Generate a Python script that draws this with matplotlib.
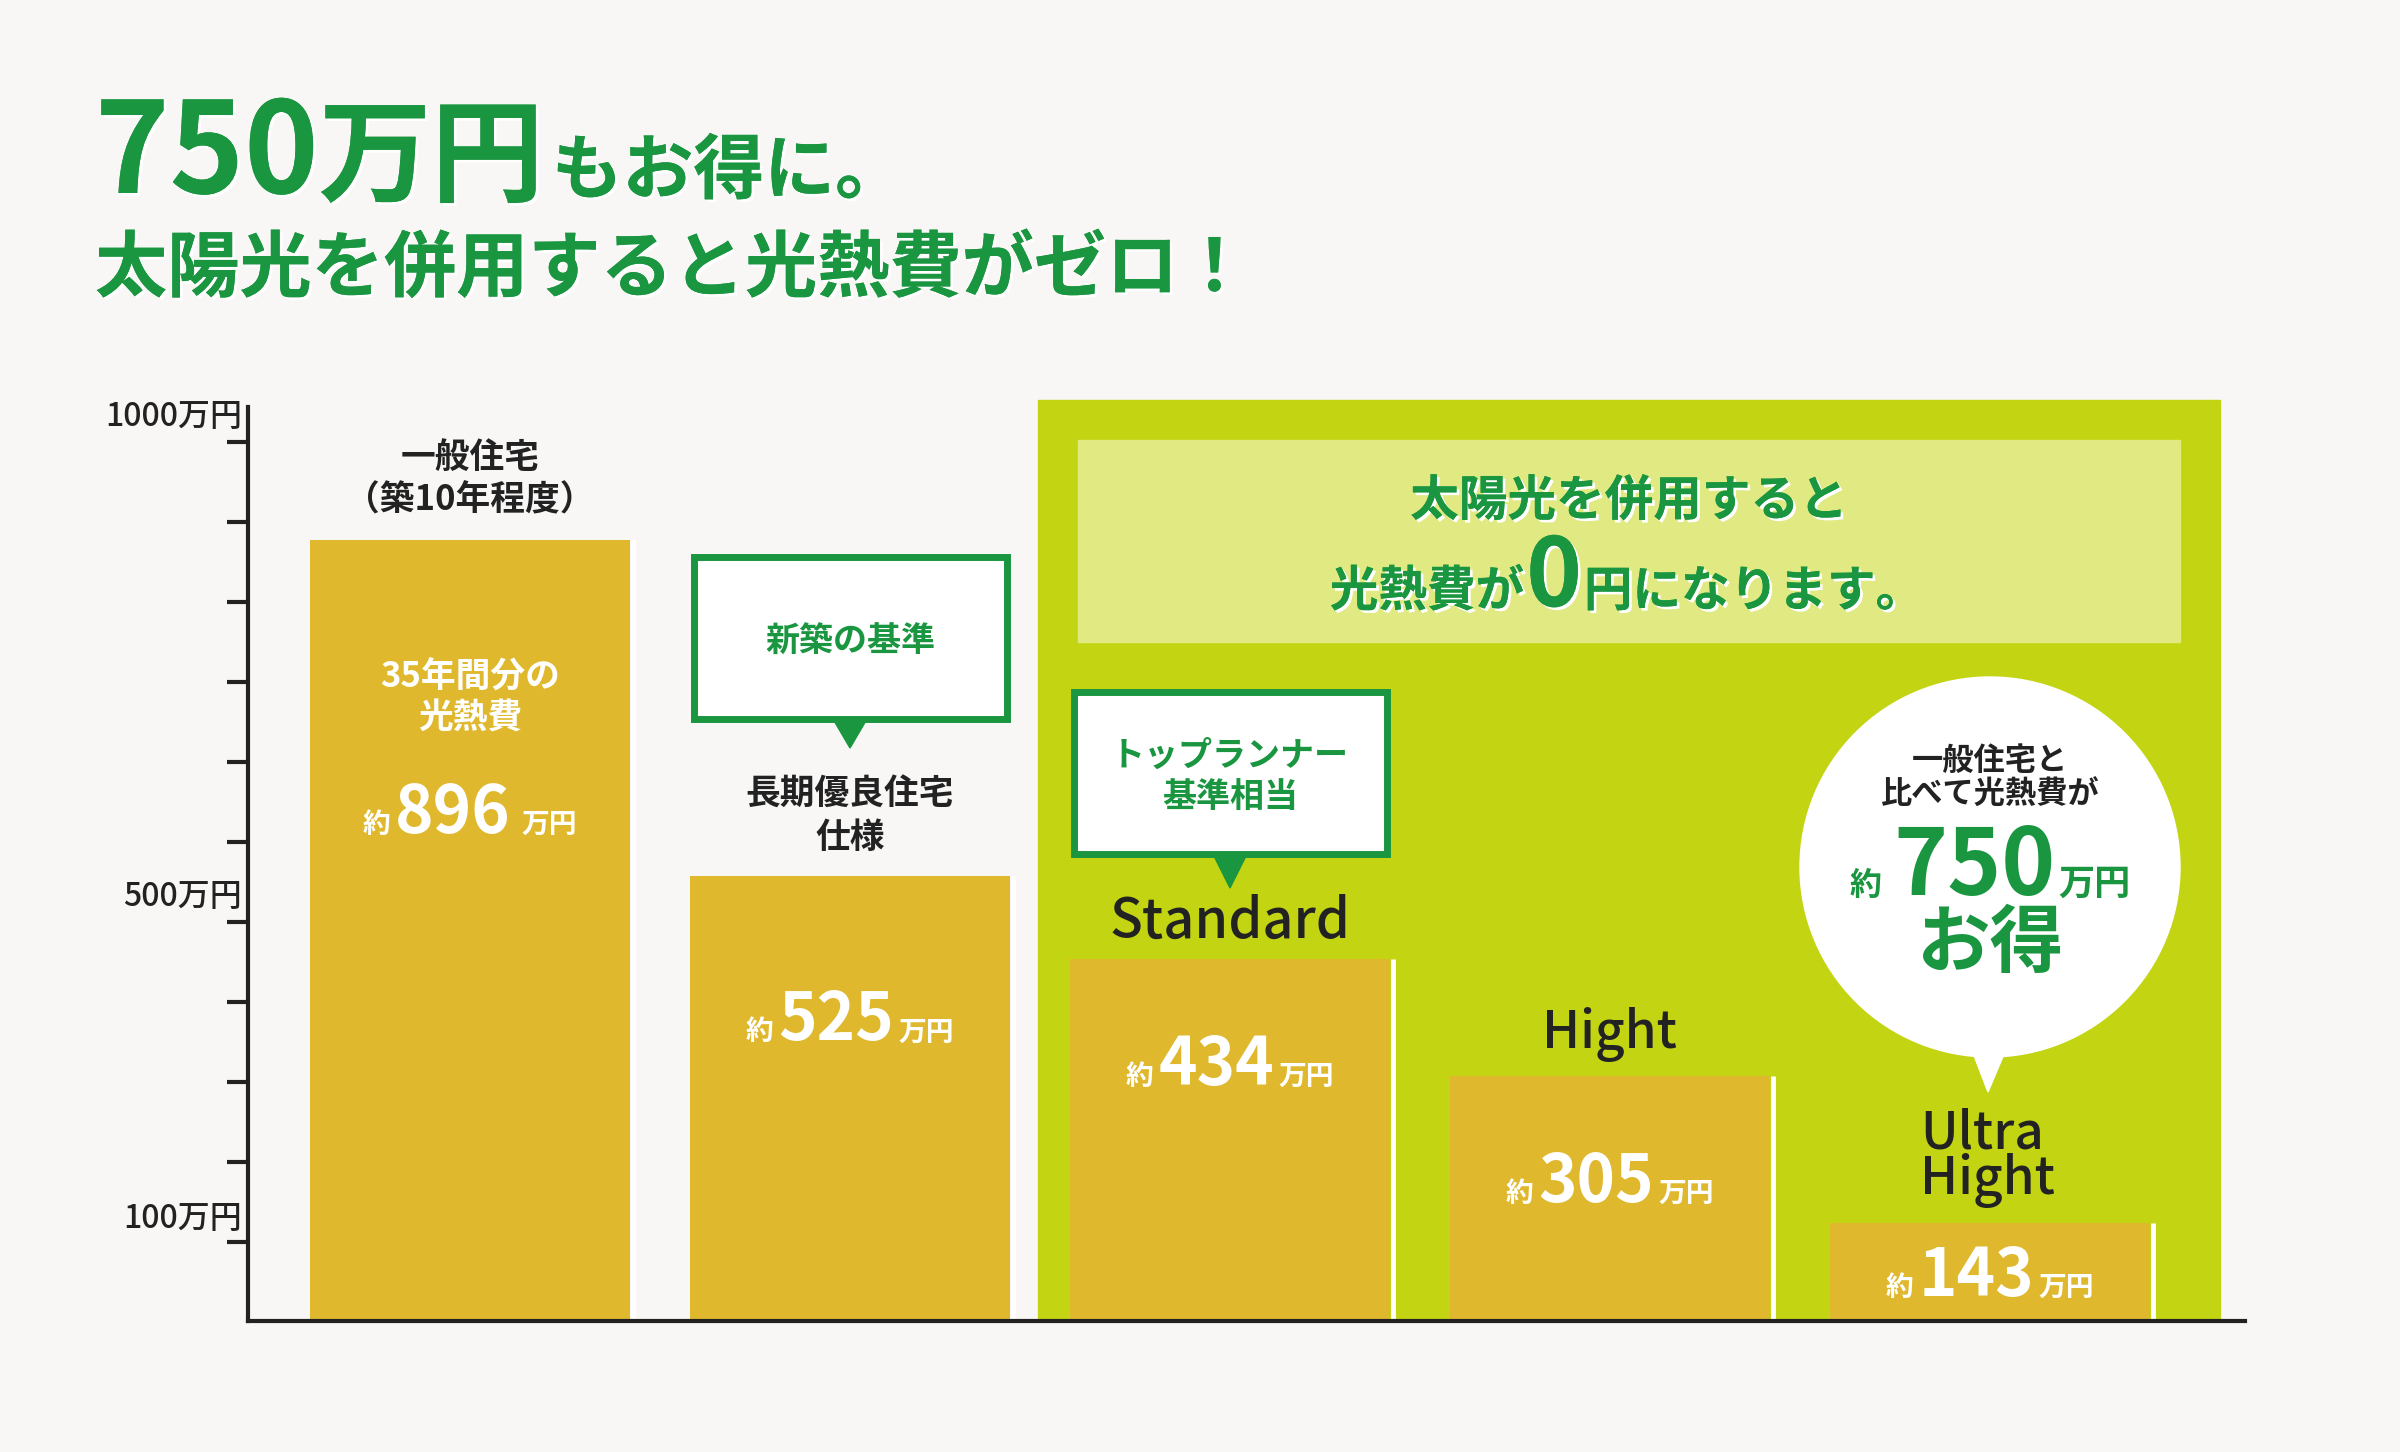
import numpy as np
import matplotlib
matplotlib.use('Agg')
import matplotlib.pyplot as plt
import matplotlib.patheffects as pe
from matplotlib.patches import Rectangle, Circle, Polygon
from matplotlib.transforms import Affine2D

plt.rcParams['font.family'] = ['Noto Sans CJK JP', 'DejaVu Sans']

# ---- data (万円, 35年間分の光熱費) ----
categories = ['一般住宅', '長期優良住宅仕様', 'Standard', 'Hight', 'Ultra Hight']
top_labels = [['一般住宅', '（築10年程度）'], ['長期優良住宅', '仕様'],
              ['Standard'], ['Hight'], ['Ultra', 'Hight']]
costs = [896, 525, 434, 305, 143]
axis_labels = ['1000万円', '500万円', '100万円']
axis_label_pos = [1032, 502, 147]
saving = 750

GREEN = '#1a9641'
LIME = '#c3d412'
LIGHT = '#e0e982'
BAR = '#e0b82e'
BG = '#f8f7f5'
INK = '#222222'

W, H = 2400, 1452
fig = plt.figure(figsize=(W / 100, H / 100), dpi=100, facecolor=BG)
# pixel coords, y measured from the top
T = Affine2D().scale(1, -1).translate(0, H)
shadow = [pe.withSimplePatchShadow(offset=(2, -2), shadow_rgbFace='white', alpha=1), pe.Normal()]

ax = fig.add_axes([248 / W, 131 / H, (2245 - 248) / W, 914 / H])
ax.patch.set_visible(False)

x = np.arange(len(costs))
bar_w = 0.842
ax.bar(x, costs, width=bar_w, color=BAR, zorder=2)
ax.vlines(x + bar_w / 2 + 0.008, 0, costs, color='white', lw=3.5, zorder=2)

ax.set_xlim(-0.584, 4.671)
ax.set_ylim(34.7, 1042.5)
ax.set_yticks(np.linspace(122, 1004, 11))
ax.set_yticklabels([])
ax.set_xticks([])
ax.tick_params(axis='y', length=15, width=3, color=INK)
for s in ['top', 'right']:
    ax.spines[s].set_visible(False)
for s in ['left', 'bottom']:
    ax.spines[s].set_linewidth(3)
    ax.spines[s].set_color(INK)
    ax.spines[s].set_zorder(4)
for lab, yv in zip(axis_labels, axis_label_pos):
    ax.text(-0.6, yv, lab, ha='right', va='center', fontsize=23, color=INK,
            fontweight='medium', clip_on=False)


def row(parts, cx, y, align='center', weight='bold', effects=None):
    # parts: (text, size, color, gap_px_before) on one baseline at pixel row y
    r = fig.canvas.get_renderer()
    arts = [fig.text(0, 0, p[0], fontsize=p[1], color=p[2], fontweight=weight,
                     ha='left', va='baseline', transform=T, zorder=8,
                     path_effects=effects) for p in parts]
    widths = [a.get_window_extent(r).width for a in arts]
    gaps = [p[3] if len(p) > 3 else 0 for p in parts]
    pos = cx - (sum(widths) + sum(gaps)) / 2 if align == 'center' else cx
    for a, w, g in zip(arts, widths, gaps):
        pos += g
        a.set_position((pos, y))
        pos += w
    return arts


def bar_px(i, v):
    px, py = ax.transData.transform((i, v))
    return px, H - py


# ---- title ----
row([('750', 91, GREEN), ('万円', 81, GREEN), ('もお得に。', 51, GREEN, 8)], 95, 193,
    align='left', effects=shadow)
row([('太陽光を併用すると光熱費がゼロ！', 52, GREEN)], 95, 291, align='left', effects=shadow)

# ---- solar panel background ----
fig.add_artist(Rectangle((1038, 400), 1182, 921, transform=T, color=LIME, zorder=-1))
fig.add_artist(Rectangle((1078, 440), 1102, 202, transform=T, color=LIGHT, zorder=-1))
fig.text(1629, 501, '太陽光を併用すると', transform=T, fontsize=35, color=GREEN,
         fontweight='bold', ha='center', va='center', path_effects=shadow)
row([('光熱費が', 35, GREEN), ('0', 68, GREEN, 2), ('円になります。', 35, GREEN, 2)], 1627, 606,
    effects=shadow)

# ---- labels on and above the bars ----
above = [[82, 40], [82, 39], [21], [28], [74, 29]]
drops = [293, 164, 126, 126, 73]
for i, v in enumerate(costs):
    cx, top = bar_px(i, v)
    for line, d in zip(top_labels[i], above[i]):
        if i < 2:
            fig.text(cx, top - d, line, transform=T, fontsize=25, color=INK,
                     fontweight='bold', ha='center', va='center', zorder=8)
        elif i == 4:
            row([(line, 37, INK)], 1920, top - d, align='left', weight='medium')
        else:
            row([(line, 39 if i == 2 else 37, INK)], cx, top - d, weight='medium')
    gap2 = 11 if i == 0 else 5
    row([('約', 20, 'white'), (str(v), 47, 'white', 5), ('万円', 20, 'white', gap2)],
        cx, top + drops[i])
cx0, top0 = bar_px(0, costs[0])
fig.text(cx0, top0 + 158, '35年間分の\n光熱費', transform=T, fontsize=25, color='white',
         fontweight='bold', ha='center', va='center', linespacing=1.2, zorder=8)

# ---- callouts ----
for (x0, y0, tip), lines in [((690, 553, 748), ['新築の基準']),
                             ((1070, 688, 888), ['トップランナー', '基準相当'])]:
    fig.add_artist(Rectangle((x0 + 3.5, y0 + 3.5), 313, 162, transform=T, facecolor='white',
                             edgecolor=GREEN, lw=5, zorder=6))
    mid = x0 + 160
    fig.add_artist(Polygon([(mid - 17, y0 + 166), (mid + 17, y0 + 166), (mid, tip)],
                           transform=T, color=GREEN, zorder=6))
    fig.text(mid, y0 + 88, '\n'.join(lines), transform=T, fontsize=24.5, color=GREEN,
             fontweight='bold', ha='center', va='center', linespacing=1.2, zorder=8)

# ---- saving bubble ----
fig.add_artist(Circle((1990, 867), 190, transform=T, color='white', zorder=6))
fig.add_artist(Polygon([(1968, 1040), (2010, 1040), (1988, 1092)], transform=T,
                       color='white', zorder=6))
fig.text(1990, 778, '一般住宅と\n比べて光熱費が', transform=T, fontsize=22.5, color=INK,
         fontweight='bold', ha='center', va='center', linespacing=1.1, zorder=8)
row([('約', 23, GREEN), (str(saving), 66, GREEN, 12), ('万円', 26, GREEN, 2)], 1990, 895)
fig.text(1990, 945, 'お得', transform=T, fontsize=53, color=GREEN,
         fontweight='bold', ha='center', va='center', zorder=8)

fig.savefig('out.png', dpi=100, facecolor=BG)
